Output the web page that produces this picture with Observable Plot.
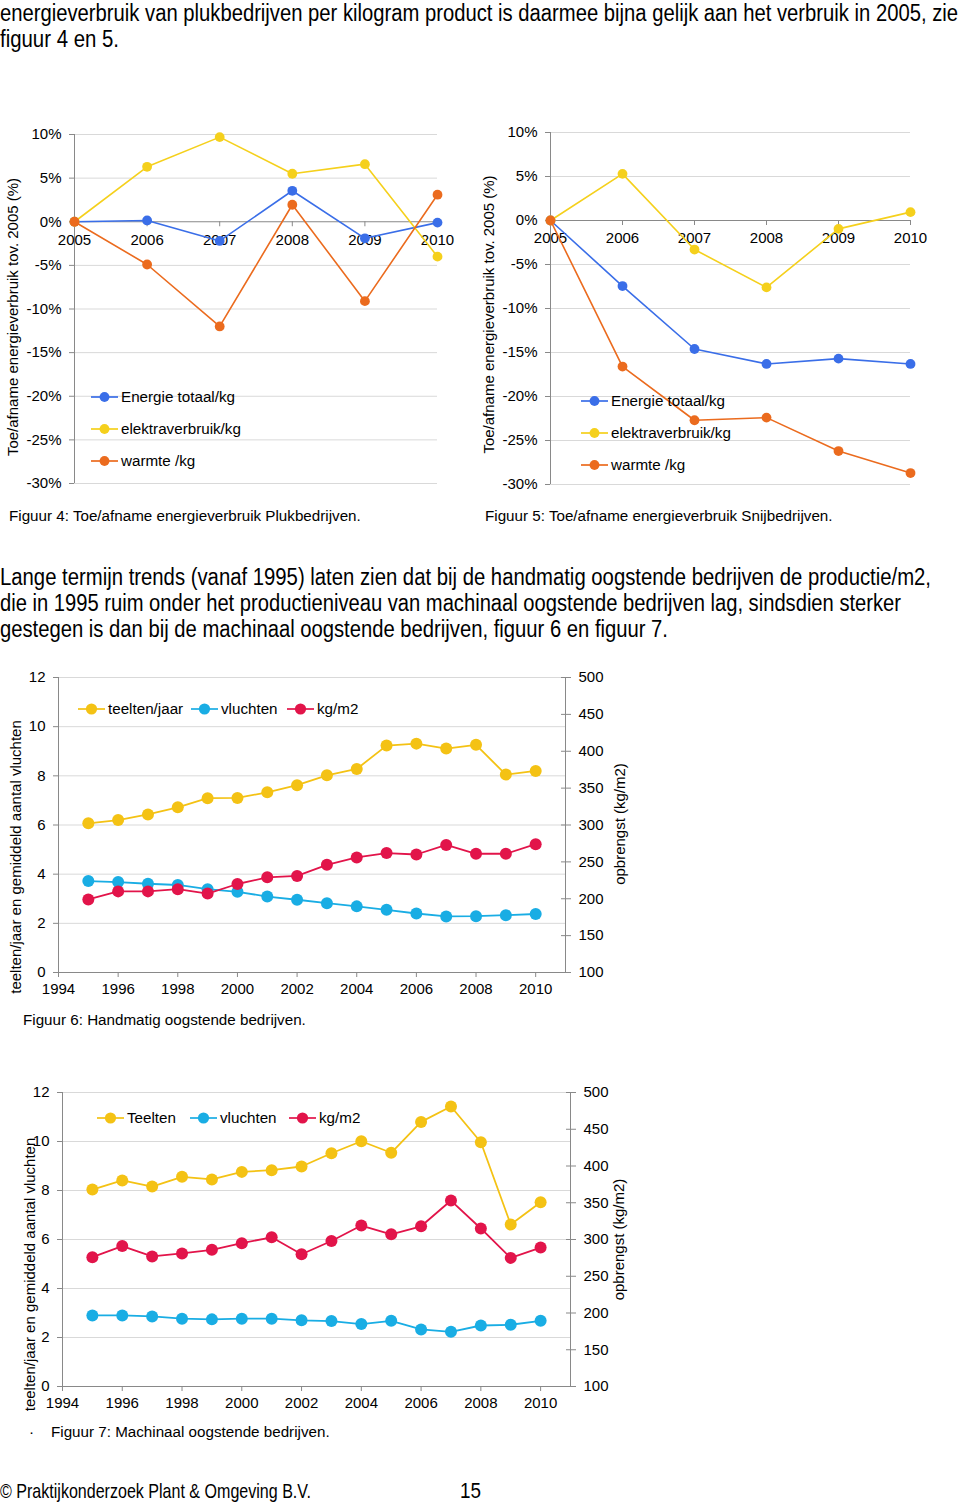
<!DOCTYPE html>
<html><head><meta charset="utf-8">
<script src="https://cdn.jsdelivr.net/npm/d3@7"></script>
<script src="https://cdn.jsdelivr.net/npm/@observablehq/plot@0.6"></script>
<style>
html,body{margin:0;padding:0;background:#fff;}
#page{position:relative;width:960px;height:1503px;overflow:hidden;font-family:"Liberation Sans",Arial,sans-serif;color:#000;}
.body-text{position:absolute;left:0;font-family:"Liberation Sans",Arial,sans-serif;font-size:23px;line-height:26px;white-space:nowrap;transform-origin:0 50%;}
.cap{position:absolute;font-size:15.2px;line-height:18px;white-space:nowrap;}
.chart{position:absolute;}
.chart svg{position:absolute;left:0;top:0;max-width:none;}
.legend-item{position:absolute;display:flex;align-items:center;font-size:15.2px;line-height:18px;height:18px;white-space:nowrap;}
.legend-item span{margin-left:3px;}
</style></head>
<body><div id="page"></div>
<script>
// ---------- DATA ----------
const energyYears = [2005, 2006, 2007, 2008, 2009, 2010];
const energySeries = ["Energie totaal/kg", "elektraverbruik/kg", "warmte /kg"];
const pctTicks = [-30, -25, -20, -15, -10, -5, 0, 5, 10];
// Figuur 4 Plukbedrijven (%)
const plukTotaal  = [0, 0.15, -2.2, 3.55, -1.9, -0.1];
const plukElektra = [0, 6.3, 9.7, 5.5, 6.6, -4.0];
const plukWarmte  = [0, -4.9, -12.0, 1.95, -9.1, 3.1];
// Figuur 5 Snijbedrijven (%)
const snijTotaal  = [0, -7.45, -14.6, -16.3, -15.7, -16.3];
const snijElektra = [0, 5.3, -3.3, -7.6, -0.95, 0.95];
const snijWarmte  = [0, -16.6, -22.7, -22.4, -26.2, -28.7];

const trendYears = [1995, 1996, 1997, 1998, 1999, 2000, 2001, 2002, 2003, 2004, 2005, 2006, 2007, 2008, 2009, 2010];
const yearTicks = [1994, 1996, 1998, 2000, 2002, 2004, 2006, 2008, 2010];
const leftTicks = [0, 2, 4, 6, 8, 10, 12];
const rightTicks = [100, 150, 200, 250, 300, 350, 400, 450, 500];
// Figuur 6 Handmatig oogstende bedrijven
const handSeries = ["teelten/jaar", "vluchten", "kg/m2"];
const handTeelten  = [6.07, 6.20, 6.43, 6.72, 7.09, 7.10, 7.33, 7.62, 8.02, 8.28, 9.23, 9.31, 9.11, 9.26, 8.05, 8.20];
const handVluchten = [3.72, 3.68, 3.61, 3.56, 3.39, 3.28, 3.09, 2.96, 2.82, 2.69, 2.55, 2.40, 2.28, 2.29, 2.33, 2.38];
const handKgm2     = [199, 210, 210, 213, 207, 220, 229, 231, 246, 256, 262, 260, 273, 261, 261, 274];
// Figuur 7 Machinaal oogstende bedrijven
const machSeries = ["Teelten", "vluchten", "kg/m2"];
const machTeelten  = [8.04, 8.41, 8.16, 8.56, 8.45, 8.76, 8.83, 8.98, 9.52, 10.01, 9.54, 10.80, 11.43, 9.97, 6.61, 7.52];
const machVluchten = [2.90, 2.90, 2.86, 2.77, 2.74, 2.77, 2.77, 2.70, 2.67, 2.55, 2.68, 2.33, 2.23, 2.49, 2.52, 2.68];
const machKgm2     = [276, 291, 277, 281, 286, 295, 303, 280, 298, 319, 307, 318, 353, 315, 275, 289];

// ---------- STYLE ----------
const GRID = "#D9D9D9", AXIS = "#898989";
const energyColors = ["#3A6EE8", "#F5D01C", "#EB6B1E"];
const trendColors = ["#F4C214", "#19ADE4", "#E2144A"];
const FONT = "'Liberation Sans', Arial, sans-serif";
const FS = 15;

const page = document.getElementById("page");

function addText(cls, text, left, centerY, lh) {
  const d = document.createElement("div");
  d.className = cls;
  d.textContent = text;
  d.style.left = left + "px";
  d.style.top = (centerY - lh / 2) + "px";
  page.appendChild(d);
  return d;
}
// condensed typeface look: squeeze a line horizontally to the width it has in the source page
function fitWidth(el, target) {
  const w = el.getBoundingClientRect().width;
  if (w > 0) el.style.transform = `scaleX(${target / w})`;
}

function addLegend(name, color, left, centerY, r) {
  const d = document.createElement("div");
  d.className = "legend-item";
  d.style.left = left + "px";
  d.style.top = (centerY - 9) + "px";
  d.innerHTML = `<svg width="27" height="14"><line x1="0" x2="27" y1="7" y2="7" stroke="${color}" stroke-width="1.7"/><circle cx="13.5" cy="7" r="${r}" fill="${color}"/></svg><span></span>`;
  d.querySelector("span").textContent = name;
  page.appendChild(d);
}

function makeChart(left, top, width, height) {
  const d = document.createElement("div");
  d.className = "chart";
  d.style.left = left + "px";
  d.style.top = top + "px";
  d.style.width = width + "px";
  d.style.height = height + "px";
  page.appendChild(d);
  return d;
}

// ---------- BODY TEXT ----------
const para1 = ["energieverbruik van plukbedrijven per kilogram product is daarmee bijna gelijk aan het verbruik in 2005, zie",
               "figuur 4 en 5."];
const para1W = [958, 119];
const para2 = ["Lange termijn trends (vanaf 1995) laten zien dat bij de handmatig oogstende bedrijven de productie/m2,",
               "die in 1995 ruim onder het productieniveau van machinaal oogstende bedrijven lag, sindsdien sterker",
               "gestegen is dan bij de machinaal oogstende bedrijven, figuur 6 en figuur 7."];
const para2W = [931, 901, 668];
para1.forEach((t, i) => fitWidth(addText("body-text", t, 0, 13 + i * 26, 26), para1W[i]));
para2.forEach((t, i) => fitWidth(addText("body-text", t, 0, 577 + i * 26, 26), para2W[i]));

// ---------- ENERGY CHARTS ----------
function energyChart(opt) {
  const host = makeChart(opt.left, opt.top, opt.width, opt.height);
  const rows = opt.series.map((vals) => energyYears.map((yr, i) => ({year: yr, value: vals[i]})));
  const svg = Plot.plot({
    width: opt.width, height: opt.height,
    marginLeft: opt.ml, marginRight: opt.mr, marginTop: opt.mt, marginBottom: opt.mb,
    style: {fontFamily: FONT, fontSize: FS + "px", background: "transparent", color: "#000", maxWidth: "none"},
    x: {type: "linear", domain: d3.extent(energyYears), axis: null},
    y: {type: "linear", domain: d3.extent(pctTicks)},
    marks: [
      Plot.ruleY(pctTicks.filter(d => d !== 0), {stroke: GRID}),
      Plot.axisY(pctTicks, {tickFormat: d => d + "%", tickSize: 5, tickPadding: 8, fontSize: FS, stroke: AXIS, fill: "#000", label: null}),
      Plot.ruleX(energyYears, {x: d => d, y1: 0, y2: 0, insetBottom: -5, stroke: AXIS}),
      Plot.ruleY([0], {stroke: AXIS}),
      Plot.ruleX([energyYears[0]], {stroke: AXIS}),
      Plot.text(energyYears, {x: d => d, y: 0, dy: 18, fontSize: FS, fill: "#000", text: d => String(d)}),
      ...rows.flatMap((r, s) => [
        Plot.line(r, {x: "year", y: "value", stroke: energyColors[s], strokeWidth: 1.6}),
        Plot.dot(r, {x: "year", y: "value", fill: energyColors[s], r: 4.9})
      ]),
      Plot.text([opt.title], {frameAnchor: "left", textAnchor: "middle", lineAnchor: "middle", rotate: -90, dx: opt.tdx, dy: opt.tdy, fontSize: FS, fill: "#000"})
    ]
  });
  host.appendChild(svg);
  energySeries.forEach((name, i) => addLegend(name, energyColors[i], opt.legX, opt.legY + i * 32, 4.9));
}

const yTitle = "Toe/afname energieverbruik tov. 2005 (%)";
energyChart({left: 0, top: 120, width: 460, height: 380, ml: 74, mr: 23, mt: 14, mb: 17,
  series: [plukTotaal, plukElektra, plukWarmte], title: yTitle, tdx: -61, tdy: 8, legX: 91, legY: 397});
energyChart({left: 470, top: 120, width: 490, height: 380, ml: 80, mr: 50, mt: 12, mb: 16,
  series: [snijTotaal, snijElektra, snijWarmte], title: yTitle, tdx: -61, tdy: 6, legX: 581, legY: 401});
addText("cap", "Figuur 4: Toe/afname energieverbruik Plukbedrijven.", 9, 516, 18);
addText("cap", "Figuur 5: Toe/afname energieverbruik Snijbedrijven.", 485, 516, 18);

// ---------- TREND CHARTS (dual axis) ----------
function trendChart(opt) {
  const host = makeChart(opt.left, opt.top, opt.width, opt.height);
  const xDomain = [yearTicks[0], d3.max(trendYears) + 1];
  const rowsOf = vals => trendYears.map((yr, i) => ({year: yr, value: vals[i]}));
  const common = {
    width: opt.width, height: opt.height,
    marginLeft: opt.ml, marginRight: opt.mr, marginTop: opt.mt, marginBottom: opt.mb,
    style: {fontFamily: FONT, fontSize: FS + "px", background: "transparent", color: "#000", maxWidth: "none"}
  };
  const R = 6;
  const leftSvg = Plot.plot({
    ...common,
    x: {type: "linear", domain: xDomain},
    y: {type: "linear", domain: d3.extent(leftTicks)},
    marks: [
      Plot.ruleY(leftTicks.filter(d => d > 0), {stroke: GRID}),
      Plot.ruleX([xDomain[0]], {stroke: AXIS}),
      Plot.ruleY([0], {stroke: AXIS}),
      Plot.axisY(leftTicks, {tickSize: 5, tickPadding: 8, fontSize: FS, stroke: AXIS, fill: "#000", label: null}),
      Plot.axisX(yearTicks, {tickFormat: d => String(d), tickSize: 5, tickPadding: 6, fontSize: FS, stroke: AXIS, fill: "#000", label: null}),
      ...[opt.teelten, opt.vluchten].flatMap((vals, s) => [
        Plot.line(rowsOf(vals), {x: "year", y: "value", stroke: trendColors[s], strokeWidth: 1.8}),
        Plot.dot(rowsOf(vals), {x: "year", y: "value", fill: trendColors[s], r: R})
      ]),
      Plot.text([opt.leftTitle], {frameAnchor: "left", textAnchor: "middle", lineAnchor: "middle", rotate: -90, dx: opt.ltdx, dy: opt.ltdy, fontSize: FS, fill: "#000"})
    ]
  });
  const rightSvg = Plot.plot({
    ...common,
    x: {type: "linear", domain: xDomain, axis: null},
    y: {type: "linear", domain: d3.extent(rightTicks)},
    marks: [
      Plot.ruleX([xDomain[1]], {stroke: AXIS}),
      Plot.axisY(rightTicks, {anchor: "right", tickSize: 5, tickPadding: 8, fontSize: FS, stroke: AXIS, fill: "#000", label: null}),
      Plot.axisY(rightTicks, {anchor: "right", tickSize: -5, text: null, stroke: AXIS, label: null}),
      Plot.line(rowsOf(opt.kgm2), {x: "year", y: "value", stroke: trendColors[2], strokeWidth: 1.8}),
      Plot.dot(rowsOf(opt.kgm2), {x: "year", y: "value", fill: trendColors[2], r: R}),
      Plot.text([opt.rightTitle], {frameAnchor: "right", textAnchor: "middle", lineAnchor: "middle", rotate: -90, dx: opt.rtdx, dy: opt.rtdy, fontSize: FS, fill: "#000"})
    ]
  });
  host.appendChild(leftSvg);
  host.appendChild(rightSvg);
  opt.names.forEach((name, i) => addLegend(name, trendColors[i], opt.legXs[i], opt.legY, 5.6));
}

const leftTitle = "teelten/jaar en gemiddeld aantal vluchten";
const rightTitle = "opbrengst (kg/m2)";
trendChart({left: 0, top: 660, width: 640, height: 360, ml: 58, mr: 75, mt: 17, mb: 48,
  teelten: handTeelten, vluchten: handVluchten, kgm2: handKgm2, names: handSeries,
  leftTitle, ltdx: -42, ltdy: 32, rightTitle, rtdx: 55, rtdy: -1,
  legXs: [78, 191, 287], legY: 709});
trendChart({left: 0, top: 1075, width: 640, height: 340, ml: 62, mr: 70, mt: 17, mb: 29,
  teelten: machTeelten, vluchten: machVluchten, kgm2: machKgm2, names: machSeries,
  leftTitle, ltdx: -32, ltdy: 35, rightTitle, rtdx: 49, rtdy: 0,
  legXs: [97, 190, 289], legY: 1118});
addText("cap", "Figuur 6: Handmatig oogstende bedrijven.", 23, 1020, 18);
addText("cap", "·", 29, 1432, 18);
addText("cap", "Figuur 7: Machinaal oogstende bedrijven.", 51, 1432, 18);

// ---------- FOOTER ----------
const foot = addText("body-text", "© Praktijkonderzoek Plant & Omgeving B.V.", 0, 1491, 26);
foot.style.fontSize = "21px";
fitWidth(foot, 311);
const pg = addText("body-text", "15", 460, 1491, 26);
pg.style.fontSize = "22px";
fitWidth(pg, 21);
</script>
</body></html>
